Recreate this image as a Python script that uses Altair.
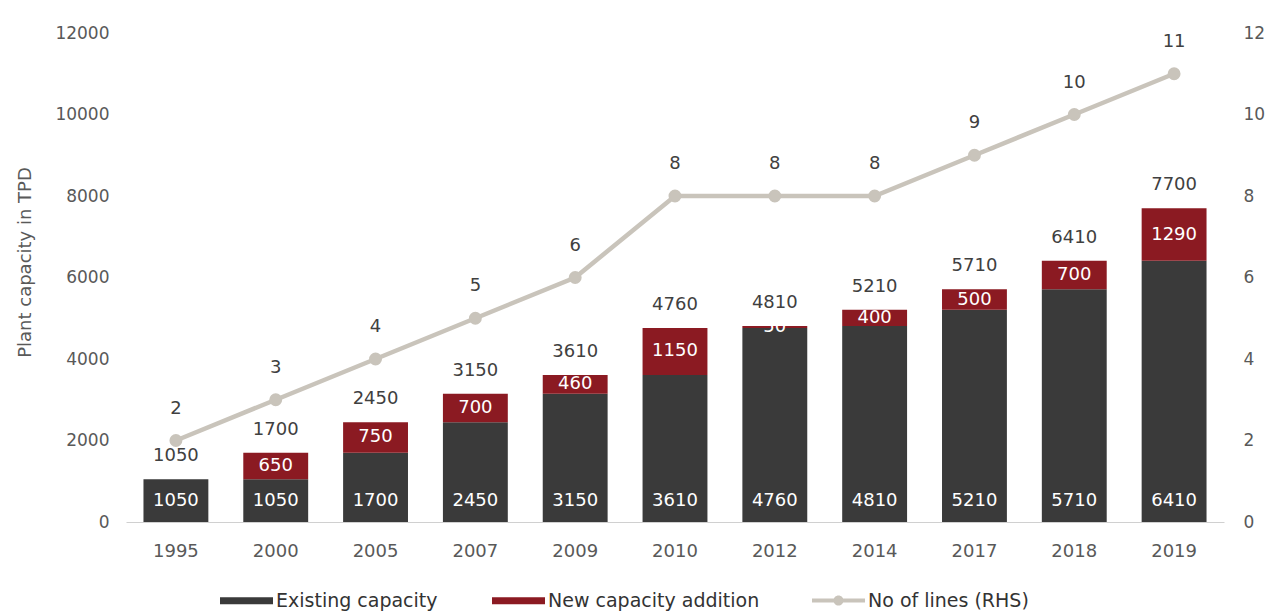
import altair as alt
import pandas as pd

years = ["1995", "2000", "2005", "2007", "2009", "2010", "2012", "2014", "2017", "2018", "2019"]
existing = [1050, 1050, 1700, 2450, 3150, 3610, 4760, 4810, 5210, 5710, 6410]
new_add = [0, 650, 750, 700, 460, 1150, 50, 400, 500, 700, 1290]
totals = [1050, 1700, 2450, 3150, 3610, 4760, 4810, 5210, 5710, 6410, 7700]
lines = [2, 3, 4, 5, 6, 8, 8, 8, 9, 10, 11]

S_EX = "Existing capacity"
S_NEW = "New capacity addition"
S_LINE = "No of lines (RHS)"

C_EX = "#3a3a3a"
C_NEW = "#8b1a22"
C_LINE = "#c9c4bb"
FONT = "DejaVu Sans"
TXT = "#595959"
DARK = "#404040"

wide = pd.DataFrame({"year": years, "existing": existing, "new": new_add,
                     "total": totals, "lines": lines})
long_rows = []
for y, e, n in zip(years, existing, new_add):
    long_rows.append({"year": y, "series": S_EX, "value": e, "order": 0})
    long_rows.append({"year": y, "series": S_NEW, "value": n, "order": 1})
long = pd.DataFrame(long_rows)

xenc = alt.X("year:N", sort=years, title=None,
             scale=alt.Scale(paddingInner=0.35, paddingOuter=0.175),
             axis=alt.Axis(labelAngle=0, ticks=False, domainColor="#d0d0d0",
                           labelColor=TXT, labelFont=FONT, labelFontSize=18,
                           labelPadding=20))
yscale = alt.Scale(domain=[0, 12000])
yaxis = alt.Axis(values=list(range(0, 12001, 2000)), format="d", grid=False, domain=False,
                 ticks=False, labelColor=TXT, labelFont=FONT, labelFontSize=17,
                 labelPadding=17, title="Plant capacity in TPD", titleFont=FONT,
                 titleFontSize=18, titleFontWeight="normal", titleColor=TXT,
                 titlePadding=20, titleY=229)

rect_path = "M-1,-0.13H1V0.13H-1Z"
line_path = "M-1,-0.075H1V0.075H-1Z M-0.19,0A0.19,0.19,0,1,1,0.19,0A0.19,0.19,0,1,1,-0.19,0Z"

bars = alt.Chart(long).mark_bar().encode(
    x=xenc,
    y=alt.Y("value:Q", stack="zero", scale=yscale, axis=yaxis),
    color=alt.Color("series:N",
                    scale=alt.Scale(domain=[S_EX, S_NEW], range=[C_EX, C_NEW]),
                    legend=alt.Legend(orient="none", legendX=94, legendY=541, title=None,
                                      symbolType=rect_path, symbolSize=2809, symbolStrokeWidth=0,
                                      labelFont=FONT, labelFontSize=19, labelColor="#333333",
                                      labelOffset=3, labelLimit=400, columnPadding=54,
                                      direction="horizontal")),
    order=alt.Order("order:Q"),
)

base = alt.Chart(wide).encode(x=alt.X("year:N", sort=years))

ex_lbl = base.mark_text(color="white", font=FONT, fontSize=18, dy=-21, baseline="middle").encode(
    y=alt.datum(0, scale=yscale),
    text=alt.Text("existing:Q"),
)
new_lbl = base.transform_filter("datum.new > 0").transform_calculate(
    mid="datum.existing + datum.new / 2"
).mark_text(color="white", font=FONT, fontSize=18, baseline="middle").encode(
    y=alt.Y("mid:Q", scale=yscale),
    text=alt.Text("new:Q"),
)
tot_lbl = base.mark_text(color=DARK, font=FONT, fontSize=18, dy=-23, baseline="middle").encode(
    y=alt.Y("total:Q", scale=yscale),
    text=alt.Text("total:Q"),
)

left = alt.layer(bars, ex_lbl, new_lbl, tot_lbl)

y2scale = alt.Scale(domain=[0, 12])
y2axis = alt.Axis(values=list(range(0, 13, 2)), orient="right", grid=False, domain=False,
                  ticks=False, labelColor=TXT, labelFont=FONT, labelFontSize=17,
                  labelPadding=19, title=None)

line = base.mark_line(strokeWidth=4.5, point=alt.OverlayMarkDef(size=120, filled=True, color=C_LINE)).encode(
    y=alt.Y("lines:Q", scale=y2scale, axis=y2axis),
    stroke=alt.Stroke("s:N", scale=alt.Scale(domain=[S_LINE], range=[C_LINE]),
                      legend=alt.Legend(orient="none", legendX=686, legendY=541, title=None,
                                        symbolType=line_path, symbolSize=2809, symbolStrokeWidth=0,
                                        symbolFillColor=C_LINE,
                                        labelFont=FONT, labelFontSize=19, labelColor="#333333",
                                        labelOffset=3, labelLimit=400, direction="horizontal")),
).transform_calculate(s="'" + S_LINE + "'")

line_lbl = base.mark_text(color=DARK, font=FONT, fontSize=18, dy=-32, baseline="middle").encode(
    y=alt.Y("lines:Q", scale=y2scale),
    text=alt.Text("lines:Q"),
)

right = alt.layer(line, line_lbl)

chart = alt.layer(left, right).resolve_scale(
    y="independent", color="independent", stroke="independent"
).resolve_legend(color="independent", stroke="independent").properties(
    width=1098, height=489,
    padding={"top": 16, "left": 8, "right": 0, "bottom": 0},
).configure_view(stroke=None)

chart.save("out.html", embed_options={"renderer": "svg", "actions": False})
